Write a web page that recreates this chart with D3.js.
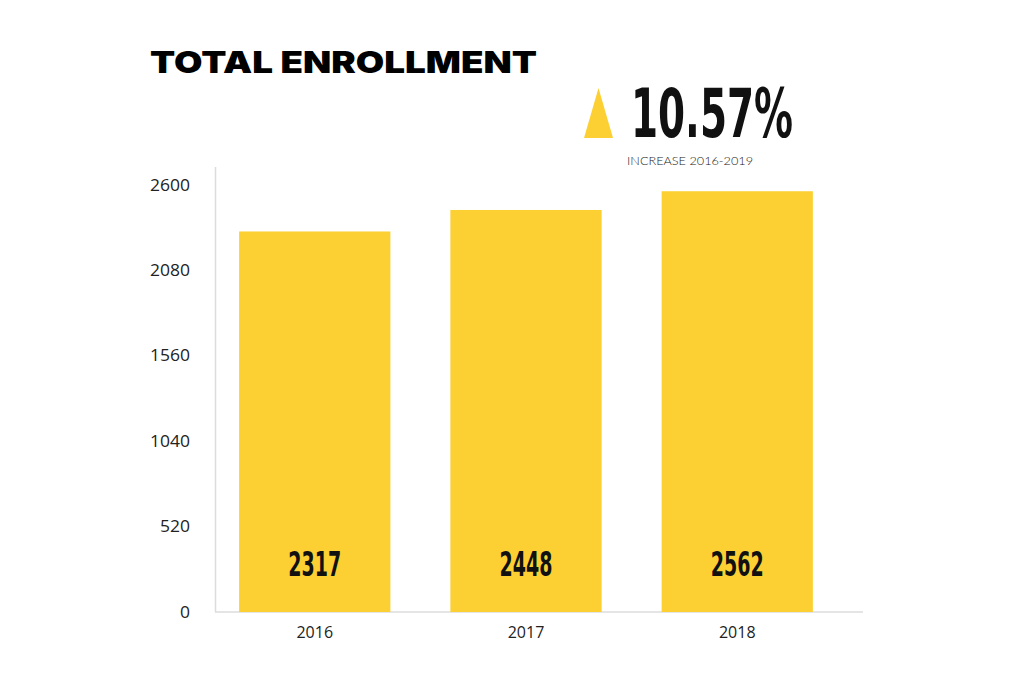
<!DOCTYPE html>
<html>
<head>
<meta charset="utf-8">
<script src="https://cdn.jsdelivr.net/npm/d3@7"></script>
<style>
  html, body { margin: 0; padding: 0; background: #fff; }
  svg { display: block; }
</style>
</head>
<body>
<svg id="chart" width="1024" height="682"></svg>
<script>
const categories = ["2016", "2017", "2018"];
const enrollment = [2317, 2448, 2562];
const yTickValues = [0, 520, 1040, 1560, 2080, 2600];
const titleText = "TOTAL ENROLLMENT";
const increaseValue = "10.57%";
const increaseLabel = "INCREASE 2016-2019";

const yellow = "#FCD033";
const svg = d3.select("#chart");

const x = d3.scaleBand().domain(categories).range([218, 834]).paddingInner(0.284).paddingOuter(0.1);
const y = d3.scaleLinear().domain([0, 2600]).range([612, 185]);

// axis lines
svg.append("line").attr("x1", 215.5).attr("x2", 215.5).attr("y1", 167).attr("y2", 612)
  .attr("stroke", "#dcdcdc").attr("stroke-width", 1.5);
svg.append("line").attr("x1", 215).attr("x2", 863).attr("y1", 612).attr("y2", 612)
  .attr("stroke", "#dcdcdc").attr("stroke-width", 1.5);

// bars
svg.selectAll("rect.bar").data(enrollment).join("rect")
  .attr("class", "bar")
  .attr("x", (d, i) => x(categories[i]))
  .attr("width", x.bandwidth())
  .attr("y", d => y(d))
  .attr("height", d => y(0) - y(d))
  .attr("fill", yellow);

// value labels
svg.selectAll("text.val").data(enrollment).join("text")
  .attr("class", "val")
  .attr("x", (d, i) => x(categories[i]) + x.bandwidth() / 2)
  .attr("y", 576)
  .attr("text-anchor", "middle")
  .attr("font-family", "'Liberation Sans Narrow', 'DejaVu Sans Condensed', sans-serif")
  .attr("font-weight", "bold")
  .attr("font-size", 34)
  .attr("textLength", 53)
  .attr("lengthAdjust", "spacingAndGlyphs")
  .attr("fill", "#111")
  .text(d => d);

// y tick labels
svg.selectAll("text.ytick").data(yTickValues).join("text")
  .attr("class", "ytick")
  .attr("x", 190)
  .attr("y", d => y(d) + 5.5)
  .attr("text-anchor", "end")
  .attr("font-family", "'Open Sans', sans-serif")
  .attr("font-size", 15.5)
  .attr("textLength", d => String(d).length * 10)
  .attr("lengthAdjust", "spacingAndGlyphs")
  .attr("fill", "#222")
  .text(d => d);

// x labels
svg.selectAll("text.xtick").data(categories).join("text")
  .attr("class", "xtick")
  .attr("x", d => x(d) + x.bandwidth() / 2)
  .attr("y", 638)
  .attr("text-anchor", "middle")
  .attr("font-family", "'Open Sans', sans-serif")
  .attr("font-size", 16)
  .attr("fill", "#222")
  .text(d => d);

// title
svg.append("text")
  .attr("x", 150).attr("y", 73)
  .attr("font-family", "Inter, 'Lato', sans-serif")
  .attr("font-weight", 900)
  .attr("font-size", 30)
  .attr("textLength", 387)
  .attr("lengthAdjust", "spacingAndGlyphs")
  .attr("fill", "#000")
  .text(titleText);

// triangle
svg.append("path")
  .attr("d", "M598.5,88 L613,138 L584,138 Z")
  .attr("fill", yellow);

// big percentage
svg.append("text")
  .attr("x", 631).attr("y", 137)
  .attr("font-family", "'Liberation Sans Narrow', 'DejaVu Sans Condensed', sans-serif")
  .attr("font-weight", "bold")
  .attr("font-size", 68)
  .attr("textLength", 162)
  .attr("lengthAdjust", "spacingAndGlyphs")
  .attr("fill", "#111")
  .text(increaseValue);

svg.append("text")
  .attr("x", 627).attr("y", 165)
  .attr("font-family", "Lato, 'Open Sans', sans-serif")
  .attr("font-weight", 300)
  .attr("font-size", 12.5)
  .attr("textLength", 126)
  .attr("lengthAdjust", "spacingAndGlyphs")
  .attr("fill", "#222")
  .text(increaseLabel);
</script>
</body>
</html>
